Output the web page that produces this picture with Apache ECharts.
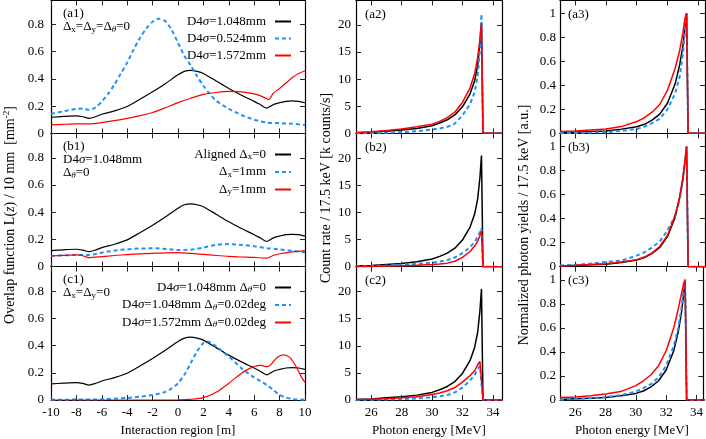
<!DOCTYPE html>
<html>
<head>
<meta charset="utf-8">
<script src="https://cdn.jsdelivr.net/npm/echarts@6/dist/echarts.min.js"></script>
<style>
html, body { margin: 0; padding: 0; background: #fff; }
#main { width: 706px; height: 439px; }
</style>
</head>
<body>
<div id="main"></div>
<script>
// ---- data ----
// overlap function L(z) [mm^-2], pairs of [z (m), value]
var alignedL = [[-10,0.118],[-9,0.124],[-8,0.128],[-7.5,0.122],[-7,0.11],[-6.5,0.122],[-6,0.14],[-5,0.165],[-4,0.197],[-3,0.25],[-2,0.305],[-1,0.365],[0,0.43],[0.5,0.455],[1,0.462],[1.5,0.455],[2,0.44],[3,0.385],[4,0.33],[5,0.28],[6,0.235],[6.5,0.21],[7,0.185],[7.3,0.2],[7.6,0.215],[8,0.225],[8.5,0.235],[9,0.238],[9.5,0.235],[10,0.225]];
var narrowL = [[-10,0.143],[-9,0.162],[-8,0.18],[-7.5,0.183],[-7,0.172],[-6.5,0.19],[-6,0.234],[-5.5,0.29],[-5,0.36],[-4.5,0.44],[-4,0.52],[-3.5,0.615],[-3,0.7],[-2.5,0.77],[-2,0.82],[-1.5,0.843],[-1,0.825],[-0.5,0.76],[0,0.665],[0.5,0.57],[1,0.5],[1.5,0.42],[2,0.35],[2.5,0.29],[3,0.24],[4,0.18],[5,0.135],[6,0.1],[7,0.079],[8,0.075],[9,0.07],[10,0.062]];
var wideL = [[-10,0.062],[-9,0.066],[-8,0.069],[-7,0.069],[-6,0.079],[-5,0.093],[-4,0.11],[-3,0.13],[-2,0.153],[-1,0.188],[0,0.226],[1,0.258],[2,0.286],[3,0.3],[4,0.308],[5,0.305],[6,0.29],[6.5,0.275],[7,0.254],[7.15,0.248],[7.5,0.295],[8,0.33],[8.5,0.37],[9,0.41],[9.5,0.44],[10,0.46]];
var shiftXL = [[-10,0.079],[-8,0.086],[-7,0.086],[-6,0.103],[-5,0.118],[-4,0.128],[-3,0.133],[-2,0.135],[-1,0.13],[0,0.123],[1,0.125],[2,0.14],[3,0.16],[4,0.166],[5,0.16],[6,0.15],[7,0.136],[8,0.127],[9,0.117],[10,0.106]];
var shiftYL = [[-10,0.079],[-9,0.083],[-8,0.086],[-7.5,0.08],[-7,0.066],[-6,0.074],[-5,0.082],[-4,0.089],[-3,0.094],[-2,0.098],[-1,0.102],[0,0.103],[1,0.098],[2,0.09],[3,0.082],[4,0.075],[5,0.071],[6,0.068],[7,0.062],[7.5,0.082],[8,0.095],[9,0.108],[10,0.116]];
var tiltL = [[-10,0.002],[-8,0.003],[-6,0.005],[-4,0.015],[-3,0.024],[-2,0.037],[-1,0.06],[-0.5,0.085],[0,0.123],[0.5,0.185],[1,0.27],[1.5,0.357],[2,0.42],[2.3,0.43],[2.6,0.42],[3,0.394],[4,0.32],[5,0.234],[6,0.165],[7,0.11],[7.5,0.074],[8,0.037],[8.5,0.018],[9,0.007],[10,0.002]];
var tiltWideL = [[-10,0],[-4,0],[0,0.001],[1,0.005],[2,0.017],[3,0.057],[4,0.123],[5,0.197],[5.5,0.225],[6,0.246],[6.5,0.254],[7,0.245],[7.3,0.258],[7.8,0.313],[8.3,0.332],[8.8,0.313],[9.3,0.246],[9.7,0.172],[10,0.13]];

// photon spectra, energy grid in MeV
var E = [25, 26, 27, 28, 29, 30, 30.5, 31, 31.5, 32, 32.5, 32.8, 33, 33.15, 33.25, 33.35, 34.6];
// count rate [k counts/s]
var countAligned  = [0.1, 0.2, 0.4, 0.6, 0.9, 1.4, 1.9, 2.5, 3.4, 4.9, 7.3, 9.7, 12.5, 16.5, 20.5, 0, 0];
var countNarrow   = [0.02, 0.05, 0.12, 0.2, 0.4, 0.7, 0.9, 1.2, 1.8, 3.3, 5.4, 7.6, 10.6, 15.3, 22, 0, 0];
var countWide     = [0.15, 0.3, 0.5, 0.8, 1.2, 1.7, 2.2, 2.9, 3.9, 5.7, 8.4, 11, 14, 17.4, 20.3, 0, 0];
var countShiftX   = [0.05, 0.1, 0.2, 0.35, 0.5, 0.75, 0.95, 1.2, 1.7, 2.5, 3.6, 4.6, 5.5, 6.4, 7.1, 0, 0];
var countShiftY   = [0.02, 0.05, 0.1, 0.15, 0.25, 0.4, 0.5, 0.65, 1.0, 1.7, 2.8, 3.8, 4.7, 5.8, 6.6, 0, 0];
var countTilt     = [0.02, 0.05, 0.1, 0.15, 0.3, 0.5, 0.7, 0.9, 1.4, 2.3, 3.6, 4.6, 5.7, 6.3, 6.6, 0, 0];
var countTiltWide = [0.1, 0.15, 0.25, 0.4, 0.6, 1.0, 1.3, 1.7, 2.3, 3.3, 4.5, 5.4, 6.5, 7.1, 7.4, 0, 0];
// normalized photon yields [a.u.]
var normAligned  = [0.005, 0.01, 0.015, 0.02, 0.035, 0.055, 0.075, 0.11, 0.16, 0.25, 0.41, 0.57, 0.72, 0.88, 1, 0, 0];
var normNarrow   = [0.002, 0.003, 0.006, 0.01, 0.02, 0.036, 0.055, 0.084, 0.12, 0.2, 0.33, 0.47, 0.65, 0.85, 1, 0, 0];
var normWide     = [0.015, 0.02, 0.028, 0.036, 0.056, 0.098, 0.13, 0.176, 0.24, 0.357, 0.54, 0.69, 0.83, 0.96, 1, 0, 0];
var normShiftX   = [0.01, 0.015, 0.025, 0.04, 0.05, 0.092, 0.12, 0.16, 0.21, 0.3, 0.425, 0.56, 0.72, 0.88, 1, 0, 0];
var normShiftY   = [0.006, 0.011, 0.017, 0.024, 0.038, 0.058, 0.08, 0.115, 0.168, 0.26, 0.425, 0.585, 0.735, 0.89, 1, 0, 0];
var normTilt     = [0.004, 0.008, 0.015, 0.025, 0.04, 0.07, 0.1, 0.133, 0.19, 0.286, 0.45, 0.6, 0.76, 0.92, 1, 0, 0];
var normTiltWide = [0.02, 0.025, 0.035, 0.05, 0.07, 0.12, 0.16, 0.21, 0.286, 0.41, 0.6, 0.76, 0.88, 0.97, 1, 0, 0];

// tick values
var zTicks = [-10, -8, -6, -4, -2, 0, 2, 4, 6, 8, 10];
var eTicks = [26, 28, 30, 32, 34];
var overlapTicks = [0, 0.2, 0.4, 0.6, 0.8];
var countTicks = [0, 5, 10, 15, 20];
var normTicks = [0, 0.2, 0.4, 0.6, 0.8, 1];

// ---- layout ----
var FONT = 'Liberation Serif';
var BLACK = '#000000', BLUE = '#1e90ff', RED = '#ff0000';

var colLeft = [51, 356, 560];
var colWidth = [254, 146, 145];
var rowTop = [0.5, 133.33, 266.67];
var rowH = [132.83, 133.33, 133.33];
var colSpec = [
  { xmin: -10, xmax: 10, xt: zTicks, ymax: 0.98, yt: overlapTicks, ym: 7 },
  { xmin: 25, xmax: 34.6, xt: eTicks, ymax: 24.6, yt: countTicks, ym: 5 },
  { xmin: 25, xmax: 34.45, xt: eTicks, ymax: 1.11, yt: normTicks, ym: 4 }
];

var grids = [], xAxes = [], yAxes = [], series = [];

function tickStyle(vals) {
  return { show: true, inside: true, length: 5, customValues: vals, lineStyle: { color: '#222', width: 1 } };
}
// the four axis lines make up each panel frame
var frame = { show: true, onZero: false, lineStyle: { color: '#000', width: 1.2 } };

for (var r = 0; r < 3; r++) {
  for (var c = 0; c < 3; c++) {
    var g = r * 3 + c;
    var s = colSpec[c];
    var ymax = r === 0 ? s.ymax * 132.83 / 133.33 : s.ymax;
    grids.push({ left: colLeft[c], top: rowTop[r], width: colWidth[c], height: rowH[r], show: false });
    // bottom + mirrored top
    xAxes.push({ type: 'value', gridIndex: g, position: 'bottom', min: s.xmin, max: s.xmax,
      axisLine: frame, splitLine: { show: false }, axisTick: tickStyle(s.xt),
      axisLabel: { show: r === 2, customValues: s.xt, margin: 6, color: '#000', fontFamily: FONT, fontSize: 13 } });
    xAxes.push({ type: 'value', gridIndex: g, position: 'top', min: s.xmin, max: s.xmax,
      axisLine: frame, splitLine: { show: false }, axisTick: tickStyle(s.xt),
      axisLabel: { show: false } });
    // left + mirrored right
    yAxes.push({ type: 'value', gridIndex: g, position: 'left', min: 0, max: ymax,
      axisLine: frame, splitLine: { show: false }, axisTick: tickStyle(s.yt),
      axisLabel: { show: true, customValues: s.yt, margin: s.ym, color: '#000', fontFamily: FONT, fontSize: 13 } });
    yAxes.push({ type: 'value', gridIndex: g, position: 'right', min: 0, max: ymax,
      axisLine: frame, splitLine: { show: false }, axisTick: tickStyle(s.yt),
      axisLabel: { show: false } });
  }
}

function addLine(name, g, data, color, dashed, width, smooth) {
  series.push({
    type: 'line', name: name, xAxisIndex: g * 2, yAxisIndex: g * 2,
    data: data, symbol: 'none', smooth: smooth, animation: false,
    lineStyle: { color: color, width: width, type: dashed ? [4, 3] : 'solid' },
    itemStyle: { color: color }
  });
}

function spec(vals) {
  return E.map(function (e, k) { return [e, vals[k]]; });
}

// left column
addLine('D4σ=1.048mm', 0, alignedL, BLACK, false, 1.2, 0.25);
addLine('D4σ=0.524mm', 0, narrowL, BLUE, true, 2, 0.25);
addLine('D4σ=1.572mm', 0, wideL, RED, false, 1.2, 0.25);
addLine('Aligned Δx=0', 3, alignedL, BLACK, false, 1.2, 0.25);
addLine('Δx=1mm', 3, shiftXL, BLUE, true, 2, 0.25);
addLine('Δy=1mm', 3, shiftYL, RED, false, 1.2, 0.25);
addLine('D4σ=1.048mm Δθ=0', 6, alignedL, BLACK, false, 1.2, 0.25);
addLine('D4σ=1.048mm Δθ=0.02deg', 6, tiltL, BLUE, true, 2, 0.25);
addLine('D4σ=1.572mm Δθ=0.02deg', 6, tiltWideL, RED, false, 1.2, 0.25);

// middle column (count rate)
addLine('a2 aligned', 1, spec(countAligned), BLACK, false, 1.5, false);
addLine('a2 narrow', 1, spec(countNarrow), BLUE, true, 2, false);
addLine('a2 wide', 1, spec(countWide), RED, false, 1.5, false);
addLine('b2 aligned', 4, spec(countAligned), BLACK, false, 1.5, false);
addLine('b2 shift x', 4, spec(countShiftX), BLUE, true, 2, false);
addLine('b2 shift y', 4, spec(countShiftY), RED, false, 1.5, false);
addLine('c2 aligned', 7, spec(countAligned), BLACK, false, 1.5, false);
addLine('c2 tilt', 7, spec(countTilt), BLUE, true, 2, false);
addLine('c2 tilt wide', 7, spec(countTiltWide), RED, false, 1.5, false);

// right column (normalized)
addLine('a3 aligned', 2, spec(normAligned), BLACK, false, 1.5, false);
addLine('a3 narrow', 2, spec(normNarrow), BLUE, true, 2, false);
addLine('a3 wide', 2, spec(normWide), RED, false, 1.5, false);
addLine('b3 aligned', 5, spec(normAligned), BLACK, false, 1.5, false);
addLine('b3 shift x', 5, spec(normShiftX), BLUE, true, 2, false);
addLine('b3 shift y', 5, spec(normShiftY), RED, false, 1.5, false);
addLine('c3 aligned', 8, spec(normAligned), BLACK, false, 1.5, false);
addLine('c3 tilt', 8, spec(normTilt), BLUE, true, 2, false);
addLine('c3 tilt wide', 8, spec(normTiltWide), RED, false, 1.5, false);

// ---- rich text (subscripts / italics) ----
function richSet(colorKey, size) {
  var base = { fontFamily: FONT, fontSize: size, lineHeight: size + 1 };
  var o = {
    n: Object.assign({}, base),
    i: Object.assign({}, base, { fontStyle: 'italic' }),
    s: { fontFamily: FONT, fontSize: 9, lineHeight: 6, verticalAlign: 'bottom' },
    si: { fontFamily: FONT, fontSize: 9, lineHeight: 6, verticalAlign: 'bottom', fontStyle: 'italic' },
    sup: { fontFamily: FONT, fontSize: 9, lineHeight: 8, verticalAlign: 'top' }
  };
  for (var k in o) o[k][colorKey] = '#000';
  return o;
}
var legendRich = richSet('color', 13);
var gfxRich = richSet('fill', 13);
var nameRich = richSet('fill', 14);

var legendText = {
  'D4σ=1.048mm': '{n|D4}{i|σ}{n|=1.048mm}',
  'D4σ=0.524mm': '{n|D4}{i|σ}{n|=0.524mm}',
  'D4σ=1.572mm': '{n|D4}{i|σ}{n|=1.572mm}',
  'Aligned Δx=0': '{n|Aligned Δ}{s|x}{n|=0}',
  'Δx=1mm': '{n|Δ}{s|x}{n|=1mm}',
  'Δy=1mm': '{n|Δ}{s|y}{n|=1mm}',
  'D4σ=1.048mm Δθ=0': '{n|D4}{i|σ}{n|=1.048mm Δ}{si|θ}{n|=0}',
  'D4σ=1.048mm Δθ=0.02deg': '{n|D4}{i|σ}{n|=1.048mm Δ}{si|θ}{n|=0.02deg}',
  'D4σ=1.572mm Δθ=0.02deg': '{n|D4}{i|σ}{n|=1.572mm Δ}{si|θ}{n|=0.02deg}'
};

function makeLegend(names, top) {
  return {
    orient: 'vertical', align: 'right', right: 414, top: top, padding: 0,
    itemGap: 4, itemWidth: 16, itemHeight: 14, selectedMode: false,
    data: names,
    // hide the symbol drawn in the middle of a line-series legend icon
    itemStyle: { color: 'rgba(0,0,0,0)', borderWidth: 0, opacity: 0 },
    formatter: function (name) { return legendText[name]; },
    textStyle: { fontFamily: FONT, fontSize: 13, color: '#000', padding: [0, 4, 0, 0], rich: legendRich }
  };
}

var legends = [
  makeLegend(['D4σ=1.048mm', 'D4σ=0.524mm', 'D4σ=1.572mm'], 15),
  makeLegend(['Aligned Δx=0', 'Δx=1mm', 'Δy=1mm'], 148),
  makeLegend(['D4σ=1.048mm Δθ=0', 'D4σ=1.048mm Δθ=0.02deg', 'D4σ=1.572mm Δθ=0.02deg'], 281)
];

function label(x, y, text, opts) {
  opts = opts || {};
  var el = { type: 'text', x: x, y: y, silent: true,
    style: { text: text, rich: opts.rich || gfxRich, fontFamily: FONT, fontSize: 13, fill: '#000',
      align: opts.align || 'left', verticalAlign: 'middle' } };
  if (opts.rotation) el.rotation = opts.rotation;
  return el;
}
var V = { rotation: Math.PI / 2, align: 'center', rich: nameRich };

var graphics = [
  label(63, 14, '{n|(a1)}'),
  label(63, 27, '{n|Δ}{s|x}{n|=Δ}{s|y}{n|=Δ}{si|θ}{n|=0}'),
  label(63, 147, '{n|(b1)}'),
  label(63, 160, '{n|D4}{i|σ}{n|=1.048mm}'),
  label(63, 173, '{n|Δ}{si|θ}{n|=0}'),
  label(63, 280, '{n|(c1)}'),
  label(63, 293, '{n|Δ}{s|x}{n|=Δ}{s|y}{n|=0}'),
  label(365, 15, '{n|(a2)}'),
  label(365, 148, '{n|(b2)}'),
  label(365, 281, '{n|(c2)}'),
  label(568, 15, '{n|(a3)}'),
  label(568, 148, '{n|(b3)}'),
  label(568, 281, '{n|(c3)}'),
  label(178, 431, '{n|Interaction region [m]}', { align: 'center' }),
  label(429, 431, '{n|Photon energy [MeV]}', { align: 'center' }),
  label(632, 431, '{n|Photon energy [MeV]}', { align: 'center' }),
  label(10, 215, '{n|Overlap function L(}{i|z}{n|) / 10 mm  [mm}{sup|-2}{n|]}', V),
  label(326, 188, '{n|Count rate / 17.5 keV [k counts/s]}', V),
  label(524, 225, '{n|Normalized photon yields / 17.5 keV [a.u.]}', V)
];

var myChart = echarts.init(document.getElementById('main'), null, { renderer: 'canvas' });
myChart.setOption({
  backgroundColor: '#fff',
  animation: false,
  grid: grids,
  xAxis: xAxes,
  yAxis: yAxes,
  legend: legends,
  graphic: graphics,
  series: series
});
</script>
</body>
</html>
